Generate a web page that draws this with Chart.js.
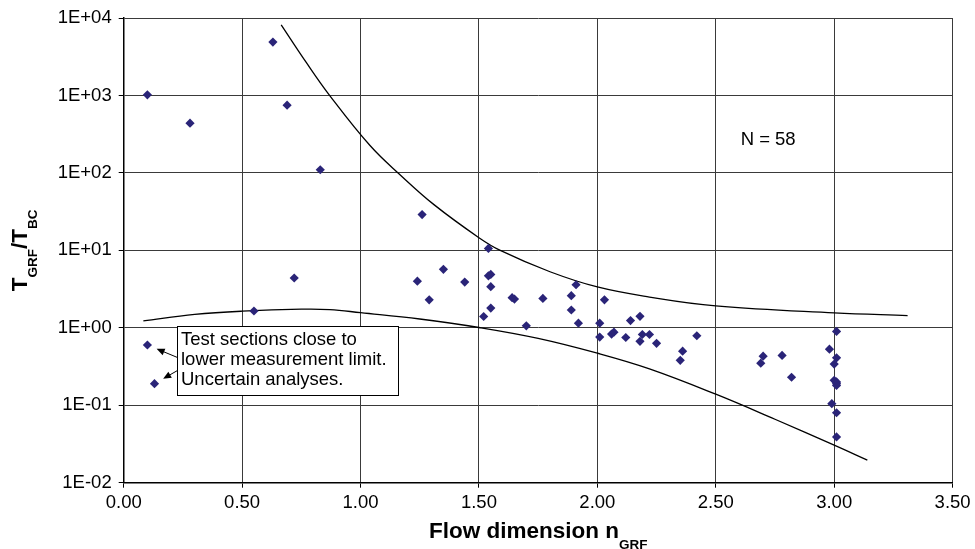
<!DOCTYPE html>
<html>
<head>
<meta charset="utf-8">
<script src="https://cdn.jsdelivr.net/npm/chart.js@4/dist/chart.umd.min.js"></script>
<style>
  html, body { margin: 0; padding: 0; background: #fff; }
  #wrap { width: 975px; height: 549px; position: relative; }
</style>
</head>
<body>
<div id="wrap"><canvas id="chart"></canvas></div>
<script>
// measured sections: flow dimension vs transmissivity ratio
const nGRF = [
  0.10, 0.28, 0.63, 0.69, 0.83, 0.72, 0.55, 0.10, 0.13,
  1.26, 1.54, 1.24, 1.35, 1.44, 1.29, 1.54, 1.55, 1.55, 1.55, 1.52,
  1.65, 1.64, 1.77, 1.70, 1.89, 1.89, 1.91, 1.92,
  2.03, 2.01, 2.01, 2.06, 2.07, 2.12, 2.14, 2.18, 2.19, 2.18, 2.22, 2.25,
  2.36, 2.35, 2.42,
  2.70, 2.69, 2.78, 2.82, 2.98, 3.01, 3.01, 3.00, 3.01, 3.01, 3.01,
  2.99, 3.01, 3.01, 3.00
];
const tRatio = [
  1020, 440, 4900, 750, 110, 4.4, 1.65, 0.60, 0.19,
  29, 10.6, 4.0, 5.7, 3.9, 2.3, 4.7, 4.9, 3.4, 1.8, 1.4,
  2.35, 2.45, 2.4, 1.06, 2.6, 1.7, 3.6, 1.15,
  2.3, 1.15, 0.76, 0.83, 0.88, 0.75, 1.24, 1.41, 0.82, 0.67, 0.82, 0.63,
  0.50, 0.38, 0.79,
  0.43, 0.35, 0.44, 0.23, 0.53, 0.90, 0.41, 0.34, 0.20, 0.19, 0.18,
  0.105, 0.08, 0.039, 0.21
];
// the two points flagged in the note box
const uncertainIdx = [7, 8];

// envelope curves
const upperX = [0.665, 0.77, 0.87, 1.04, 1.17, 1.31, 1.50, 1.59, 1.80, 2.00, 2.22, 2.50, 3.00, 3.31];
const upperY = [8200, 2700, 1000, 226, 93, 39, 14.6, 10, 5.3, 3.37, 2.5, 1.92, 1.56, 1.44];
const lowerX = [0.083, 0.30, 0.50, 0.75, 0.87, 1.00, 1.25, 1.50, 1.75, 2.00, 2.22, 2.50, 2.75, 3.00, 3.14];
const lowerY = [1.23, 1.49, 1.64, 1.74, 1.72, 1.57, 1.30, 1.01, 0.73, 0.47, 0.295, 0.139, 0.066, 0.0306, 0.0196];

const yTicks = [0.01, 0.1, 1, 10, 100, 1000, 10000];
const xMin = 0, xMax = 3.5, xStep = 0.5;

const noteLines = ['Test sections close to', 'lower measurement limit.', 'Uncertain analyses.'];
const countLabel = 'N = 58';

const FONT = 'Arial, "Liberation Sans", sans-serif';

function toXY(xs, ys) {
  return xs.map((x, i) => ({ x: x, y: ys[i] }));
}

function expLabel(v) {
  const e = Math.round(Math.log10(v));
  return '1E' + (e < 0 ? '-' : '+') + String(Math.abs(e)).padStart(2, '0');
}

function arrow(ctx, x0, y0, x1, y1) {
  const ang = Math.atan2(y1 - y0, x1 - x0);
  const len = 8, half = 3.5;
  const bx = x1 - Math.cos(ang) * len, by = y1 - Math.sin(ang) * len;
  ctx.beginPath();
  ctx.moveTo(x0, y0);
  ctx.lineTo(bx, by);
  ctx.stroke();
  ctx.beginPath();
  ctx.moveTo(x1, y1);
  ctx.lineTo(bx - Math.sin(ang) * half, by + Math.cos(ang) * half);
  ctx.lineTo(bx + Math.sin(ang) * half, by - Math.cos(ang) * half);
  ctx.closePath();
  ctx.fill();
}

// draws a run of text pieces, some of them as subscripts, starting at x0
function drawRuns(ctx, runs, x0, base) {
  let x = x0;
  runs.forEach(r => {
    ctx.font = r.sub ? 'bold 13.5px ' + FONT : 'bold 22.5px ' + FONT;
    ctx.fillText(r.t, x, base + (r.sub ? 10.5 : 0));
    x += ctx.measureText(r.t).width;
  });
}
function runsWidth(ctx, runs) {
  let w = 0;
  runs.forEach(r => {
    ctx.font = r.sub ? 'bold 13.5px ' + FONT : 'bold 22.5px ' + FONT;
    w += ctx.measureText(r.t).width;
  });
  return w;
}

const overlay = {
  id: 'overlay',
  afterDraw(chart) {
    const { ctx, chartArea: a, scales: { x, y } } = chart;
    ctx.save();
    ctx.fillStyle = '#000';
    ctx.strokeStyle = '#000';

    // count label
    ctx.font = '18.5px ' + FONT;
    ctx.textBaseline = 'middle';
    ctx.textAlign = 'left';
    ctx.fillText(countLabel, x.getPixelForValue(2.605), y.getPixelForValue(270));

    // note box
    const bl = Math.round(x.getPixelForValue(0.225)) + 0.5;
    const br = Math.round(x.getPixelForValue(1.16)) + 0.5;
    const bt = Math.round(y.getPixelForValue(1.07)) + 0.5;
    const bb = Math.round(y.getPixelForValue(0.137)) + 0.5;
    ctx.fillStyle = '#fff';
    ctx.fillRect(bl, bt, br - bl, bb - bt);
    ctx.lineWidth = 1;
    ctx.strokeRect(bl, bt, br - bl, bb - bt);
    ctx.fillStyle = '#000';
    ctx.textBaseline = 'alphabetic';
    noteLines.forEach((s, i) => ctx.fillText(s, bl + 3.5, bt + 18.5 + i * 20));

    // arrows from the box to the flagged points
    const tails = [bt + 31, bt + 44];
    ctx.lineWidth = 1;
    uncertainIdx.forEach((idx, i) => {
      const px = x.getPixelForValue(nGRF[idx]);
      const py = y.getPixelForValue(tRatio[idx]);
      const tx = bl, ty = tails[i];
      const d = Math.hypot(tx - px, ty - py);
      const hx = px + (tx - px) / d * 10, hy = py + (ty - py) / d * 10;
      arrow(ctx, tx, ty, hx, hy);
    });

    // x axis title
    const xRuns = [{ t: 'Flow dimension n' }, { t: 'GRF', sub: true }];
    const xw = runsWidth(ctx, xRuns);
    drawRuns(ctx, xRuns, (a.left + a.right) / 2 - xw / 2, 538);

    // y axis title
    const yRuns = [{ t: 'T' }, { t: 'GRF', sub: true }, { t: '/T' }, { t: 'BC', sub: true }];
    const yw = runsWidth(ctx, yRuns);
    ctx.translate(26.5, (a.top + a.bottom) / 2);
    ctx.rotate(-Math.PI / 2);
    drawRuns(ctx, yRuns, -yw / 2, 0);

    ctx.restore();
  }
};

Chart.defaults.font.family = FONT;
Chart.defaults.font.size = 18.5;
Chart.defaults.color = '#000';

const curveStyle = {
  showLine: true,
  borderColor: '#000',
  borderWidth: 1.3,
  pointRadius: 0,
  tension: 0.4
};

new Chart(document.getElementById('chart'), {
  type: 'scatter',
  data: {
    datasets: [
      {
        data: toXY(nGRF, tRatio),
        pointStyle: 'rectRot',
        pointRadius: 4.6,
        backgroundColor: '#2a2478',
        borderColor: '#2a2478',
        borderWidth: 0
      },
      Object.assign({ data: toXY(upperX, upperY) }, curveStyle),
      Object.assign({ data: toXY(lowerX, lowerY) }, curveStyle)
    ]
  },
  options: {
    responsive: true,
    maintainAspectRatio: false,
    animation: false,
    layout: { padding: { top: 17.5, right: 22.4, left: 0, bottom: 0 } },
    plugins: { legend: { display: false }, tooltip: { enabled: false } },
    scales: {
      x: {
        type: 'linear',
        min: xMin,
        max: xMax,
        ticks: {
          stepSize: xStep,
          padding: 4,
          callback: v => Number(v).toFixed(2)
        },
        grid: { color: '#3a3a3a', lineWidth: 1, tickLength: 5, tickColor: '#000' },
        border: { color: '#000', width: 1.5 },
        afterFit: s => { s.height = 66.3; }
      },
      y: {
        type: 'logarithmic',
        min: yTicks[0],
        max: yTicks[yTicks.length - 1],
        afterBuildTicks: s => { s.ticks = yTicks.map(v => ({ value: v })); },
        ticks: { padding: 7, callback: v => expLabel(v) },
        grid: { color: '#3a3a3a', lineWidth: 1, tickLength: 5, tickColor: '#000' },
        border: { color: '#000', width: 1.5 },
        afterFit: s => { s.width = 123.7; }
      }
    }
  },
  plugins: [overlay]
});
</script>
</body>
</html>
